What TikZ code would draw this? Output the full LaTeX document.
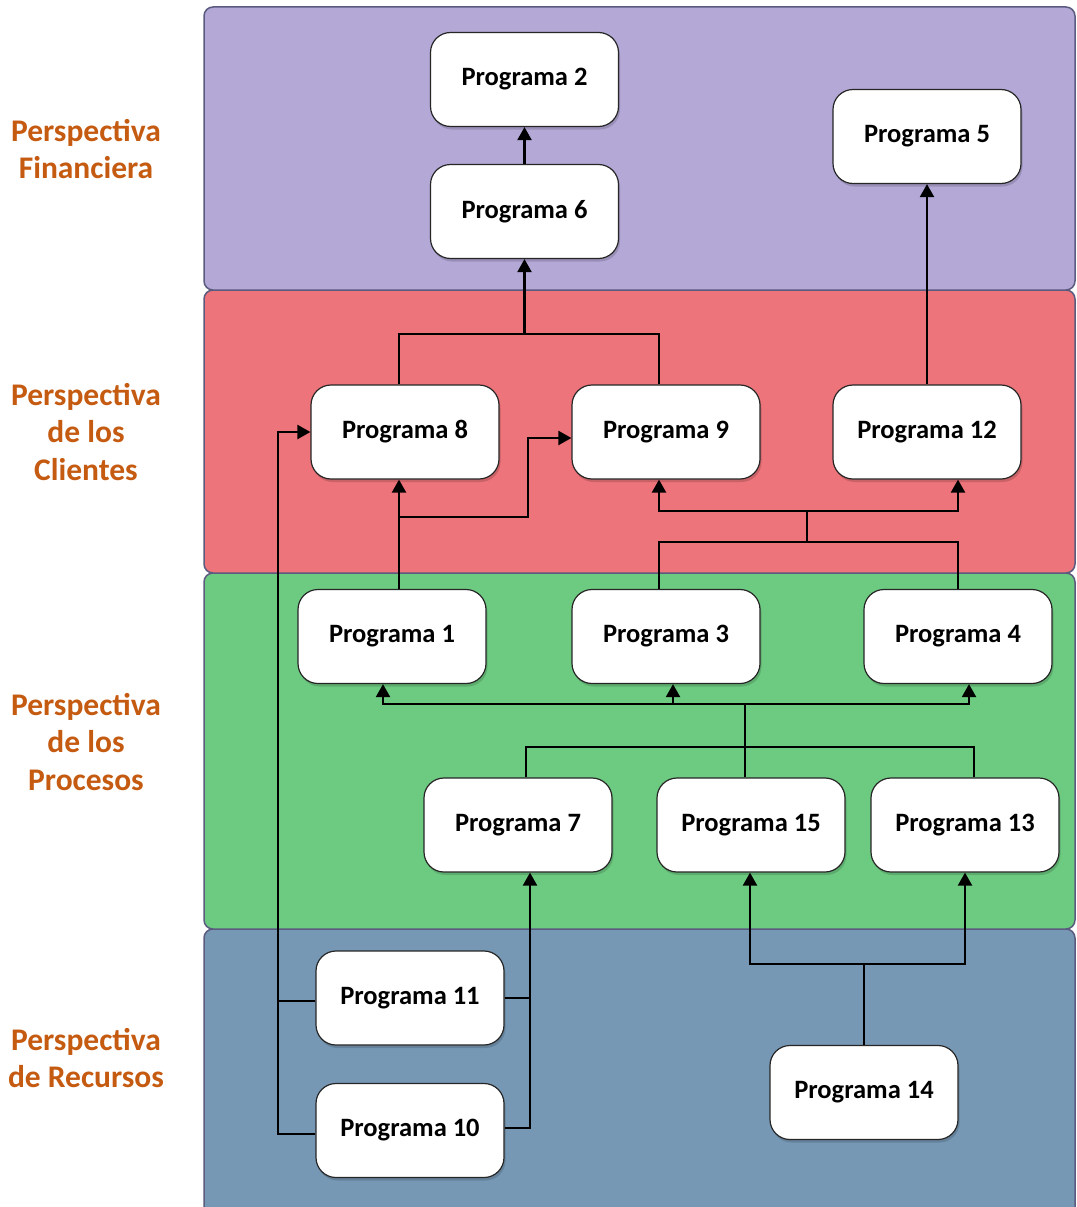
\documentclass[tikz,border=0pt]{standalone}
\usepackage{fontspec}
\setmainfont{Carlito}
\usetikzlibrary{arrows.meta,shadows}
\definecolor{bandpurple}{HTML}{B3A8D6}
\definecolor{bandred}{HTML}{ED747A}
\definecolor{bandgreen}{HTML}{6DCB81}
\definecolor{bandblue}{HTML}{7698B4}
\definecolor{bandline}{HTML}{5B5B80}
\definecolor{labcol}{HTML}{C55A11}
\tikzset{
  band/.style={draw=bandline, line width=1.5pt, rounded corners=9pt},
  prog/.style={draw=black!85, line width=1.2pt, fill=white, rounded corners=20pt,
    minimum width=188pt, minimum height=94pt, inner sep=0pt,
    font=\fontsize{26.5}{31}\selectfont\bfseries,
    general shadow={shadow xshift=1.5pt, shadow yshift=-3pt, fill=black, opacity=0.15}},
  lab/.style={align=center, text=labcol, font=\fontsize{31.5}{37.5}\selectfont\bfseries},
  conn/.style={line width=2.2pt, line join=miter},
  arr/.style={conn, -{Triangle[length=13pt,width=14pt]}}
}
\begin{document}
\begin{tikzpicture}[x=1pt,y=-1pt]
\useasboundingbox (0,0) rectangle (1076,1207);
\clip (0,0) rectangle (1076,1207);
% bands
\draw[band, fill=bandblue] (204,929) rectangle (1075,1225);
\draw[band, fill=bandgreen] (204,573) rectangle (1075,929);
\draw[band, fill=bandred] (204,290) rectangle (1075,573);
\draw[band, fill=bandpurple] (204,7) rectangle (1075,290);
% labels
\node[lab] (lab1) at (86,149) {Perspectiva\\Financiera};
\node[lab] (lab2) at (86,432) {Perspectiva\\de los\\Clientes};
\node[lab] (lab3) at (86,742) {Perspectiva\\de los\\Procesos};
\node[lab] (lab4) at (86,1058) {Perspectiva\\de Recursos};
% program boxes
\node[prog] (p2) at (524.5,79.5) {Programa 2};
\node[prog] (p6) at (524.5,211.5) {Programa 6};
\node[prog] (p5) at (927,136.5) {Programa 5};
\node[prog] (p8) at (405,432) {Programa 8};
\node[prog] (p9) at (666,432) {Programa 9};
\node[prog] (p12) at (927,432) {Programa 12};
\node[prog] (p1) at (392,636.5) {Programa 1};
\node[prog] (p3) at (666,636.5) {Programa 3};
\node[prog] (p4) at (958,636.5) {Programa 4};
\node[prog] (p7) at (518,825) {Programa 7};
\node[prog] (p15) at (751,825) {Programa 15};
\node[prog] (p13) at (965,825) {Programa 13};
\node[prog] (p11) at (410,998) {Programa 11};
\node[prog] (p10) at (410,1130.5) {Programa 10};
\node[prog] (p14) at (864,1092.5) {Programa 14};
% junction coordinates
\coordinate (a1) at (399,334); \coordinate (a2) at (659,334); \coordinate (a3) at (524.5,334);
\coordinate (b1) at (399,517); \coordinate (b2) at (528,517); \coordinate (b3) at (528,438);
\coordinate (c1) at (659,542); \coordinate (c2) at (958,542); \coordinate (c3) at (807,542);
\coordinate (c4) at (807,511); \coordinate (c5) at (659,511); \coordinate (c6) at (958,511);
\coordinate (d1) at (526,747); \coordinate (d2) at (974,747); \coordinate (d4) at (745,704);
\coordinate (d5) at (383,704); \coordinate (d6) at (673,704); \coordinate (d7) at (969,704);
\coordinate (e1) at (864,964); \coordinate (e2) at (750,964); \coordinate (e3) at (965,964);
\coordinate (f1) at (530,998); \coordinate (f2) at (530,1128);
\coordinate (g1) at (278,1001); \coordinate (g2) at (278,1134); \coordinate (g3) at (278,432);
% connectors
\draw[arr] (p6.north) -- (p2.south);
\draw[conn] (a1|-p8.north) -- (a1) -- (a2) -- (a2|-p9.north);
\draw[arr] (a3) -- (p6.south);
\draw[arr] (p12.north) -- (p5.south);
\draw[arr] (b1|-p1.north) -- (b1|-p8.south);
\draw[arr] (b1) -- (b2) -- (b3) -- (b3-|p9.west);
\draw[conn] (c1|-p3.north) -- (c1) -- (c2) -- (c2|-p4.north);
\draw[conn] (c3) -- (c4);
\draw[arr] (c4) -- (c5) -- (c5|-p9.south);
\draw[arr] (c4) -- (c6) -- (c6|-p12.south);
\draw[conn] (d1|-p7.north) -- (d1) -- (d2) -- (d2|-p13.north);
\draw[conn] (d4|-p15.north) -- (d4);
\draw[arr] (d4) -- (d5) -- (d5|-p1.south);
\draw[arr] (d6) -- (d6|-p3.south);
\draw[arr] (d4) -- (d7) -- (d7|-p4.south);
\draw[conn] (p14.north) -- (e1);
\draw[arr] (e1) -- (e2) -- (e2|-p15.south);
\draw[arr] (e1) -- (e3) -- (e3|-p13.south);
\draw[conn] (p11.east|-f1) -- (f1);
\draw[arr] (p10.east|-f2) -- (f2) -- (f2|-p7.south);
\draw[conn] (p11.west|-g1) -- (g1);
\draw[arr] (p10.west|-g2) -- (g2) -- (g3) -- (g3-|p8.west);
\end{tikzpicture}
\end{document}
